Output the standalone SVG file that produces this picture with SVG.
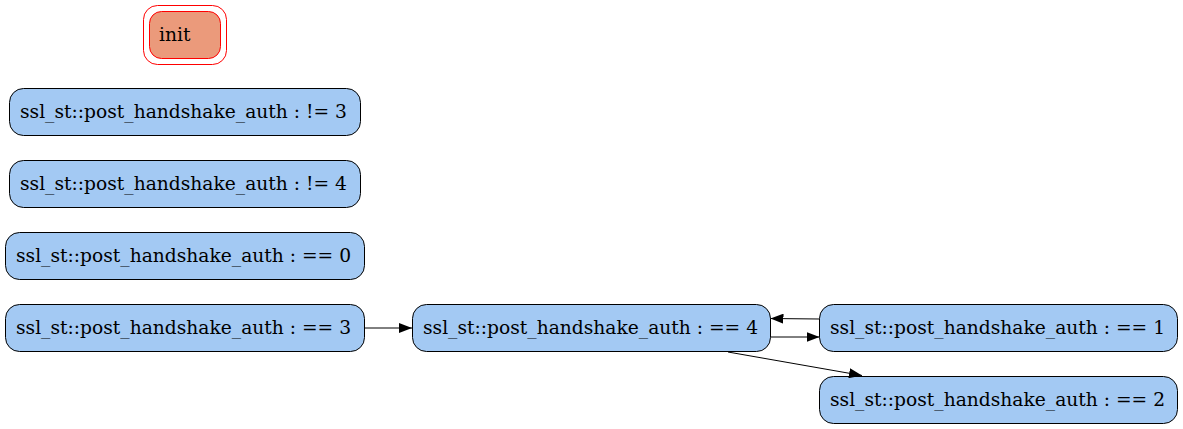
<svg xmlns="http://www.w3.org/2000/svg" width="1183" height="429" viewBox="0 0 1183 429">
<defs>
<marker id="ah" markerWidth="13" markerHeight="10" refX="13" refY="5" orient="auto" markerUnits="userSpaceOnUse" viewBox="0 0 13 10">
<path d="M0,0 L13,5 L0,10 Z" fill="#000"/>
</marker>
<style>
.n{fill:#A3C9F3;stroke:#000;stroke-width:1}
.t{font-family:"DejaVu Serif",serif;font-size:18.67px;fill:#000}
.e{stroke:#000;stroke-width:1;fill:none;marker-end:url(#ah)}
</style>
</defs>
<rect width="1183" height="429" fill="#fff"/>
<g id="init">
<rect x="143.5" y="5.5" width="83" height="59" rx="14" fill="none" stroke="#f00"/>
<rect x="149.5" y="11.5" width="71" height="47" rx="12" fill="#EB9A7B" stroke="#f00"/>
<text class="t" x="159" y="41">init</text>
</g>
<g id="ne3">
<rect class="n" x="9.5" y="88.5" width="351" height="47" rx="14"/>
<text class="t" x="20" y="118">ssl_st::post_handshake_auth : != 3</text>
</g>
<g id="ne4">
<rect class="n" x="9.5" y="160.5" width="351" height="47" rx="14"/>
<text class="t" x="20" y="190">ssl_st::post_handshake_auth : != 4</text>
</g>
<g id="eq0">
<rect class="n" x="5.5" y="232.5" width="359" height="47" rx="14"/>
<text class="t" x="16" y="262">ssl_st::post_handshake_auth : == 0</text>
</g>
<g id="eq3">
<rect class="n" x="5.5" y="304.5" width="359" height="47" rx="14"/>
<text class="t" x="16" y="334">ssl_st::post_handshake_auth : == 3</text>
</g>
<g id="eq4">
<rect class="n" x="412.5" y="304.5" width="358" height="47" rx="14"/>
<text class="t" x="423" y="334">ssl_st::post_handshake_auth : == 4</text>
</g>
<g id="eq1">
<rect class="n" x="819.5" y="304.5" width="358" height="47" rx="14"/>
<text class="t" x="830" y="334">ssl_st::post_handshake_auth : == 1</text>
</g>
<g id="eq2">
<rect class="n" x="819.5" y="376.5" width="358" height="47" rx="14"/>
<text class="t" x="830" y="406">ssl_st::post_handshake_auth : == 2</text>
</g>
<g id="edges">
<path class="e" d="M364.5,328 L412,328"/>
<path class="e" d="M819.5,319 L770.5,318.5"/>
<path class="e" d="M770.5,337 L819.5,337"/>
<path class="e" d="M728,352 L862,375.5"/>
</g>
</svg>
